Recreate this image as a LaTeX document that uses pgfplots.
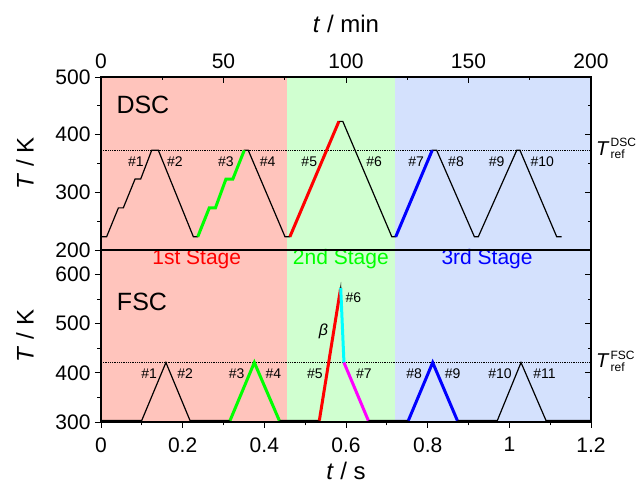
\documentclass[border=0pt]{standalone}
\usepackage{fontspec}
\setmainfont{Liberation Sans}
\usepackage{pgfplots}
\pgfplotsset{compat=1.18}

\definecolor{stA}{RGB}{255,196,188}
\definecolor{stB}{RGB}{208,255,208}
\definecolor{stC}{RGB}{212,225,253}
\definecolor{grl}{RGB}{0,255,0}
\definecolor{cyl}{RGB}{0,255,255}
\definecolor{mgl}{RGB}{255,0,255}

\pgfplotsset{
  panel/.style={
    scale only axis, width=490pt,
    axis on top, clip=false,
    tick align=center,
    major tick length=6pt, minor tick length=3.5pt,
    major x tick style={yshift=-3pt}, minor x tick style={yshift=-1.75pt},
    major y tick style={xshift=-3pt}, minor y tick style={xshift=-1.75pt},
    tick style={black, line width=0.8pt},
    axis line style={line width=1.1pt},
    tick label style={font=\fontsize{21}{21}\selectfont},
    yticklabel style={xshift=-4pt},
    label style={font=\fontsize{24}{24}\selectfont},
    /pgf/number format/assume math mode=true,
    ytick pos=both, yticklabel pos=left,
    minor x tick num=1, minor y tick num=1,
    ylabel={\textit{T} / K},
    ylabel style={at={(axis description cs:-0.155,0.5)}, anchor=center},
  },
  thinln/.style={black, line width=1.2pt},
  thickln/.style={line width=3pt},
  refln/.style={black, densely dotted, line width=0.8pt},
}
\tikzset{lab/.style={font=\fontsize{14}{14}\selectfont},
  big/.style={font=\fontsize{25}{25}\selectfont}}

\begin{document}
\begin{tikzpicture}
% ---- DSC panel (t in min)
\begin{axis}[panel, name=top, height=173pt,
    xmin=0, xmax=200, ymin=200, ymax=500,
    xtick={0,50,100,150,200}, ytick={200,300,400,500},
    xtick pos=both, xticklabel pos=right,
    xticklabel style={yshift=2pt},
    xlabel={\textit{t} / min},
    xlabel style={at={(axis description cs:0.5,1.306)}, anchor=center}]
\coordinate (TL) at (rel axis cs:0,1);
\addplot[fill=stA, draw=none] coordinates {(0,200)(75.9,200)(75.9,500)(0,500)};
\addplot[fill=stB, draw=none] coordinates {(75.9,200)(120,200)(120,500)(75.9,500)};
\addplot[fill=stC, draw=none] coordinates {(120,200)(200,200)(200,500)(120,500)};
\addplot[refln] coordinates {(0,373)(200,373)};
\addplot[thinln] coordinates {
 (0,223)(2.3,223)(7.1,273)(9.1,273)(13.9,323)(16.2,323)(20.7,373)(23.4,373)
 (37.7,223)(39.5,223)(44.2,273)(46.7,273)(51.0,323)(53.8,323)(58.5,373)(60.1,373)
 (75.1,223)(77.1,223)(97.1,423)(98.7,423)(118.7,223)(120.3,223)(135.2,373)(137.0,373)
 (152.4,223)(154.0,223)(169.7,373)(171.0,373)(186.0,223)(188.0,223)};
\addplot[thickln, grl] coordinates {(39.5,223)(44.2,273)(46.7,273)(51.0,323)(53.8,323)(58.5,373)};
\addplot[thickln, red] coordinates {(77.1,223)(97.1,423)};
\addplot[thickln, blue] coordinates {(120.3,223)(135.2,373)};
\node[big] at (axis cs:17.1,451) {DSC};
\node[lab] at (axis cs:14.2,353) {\#1};
\node[lab] at (axis cs:30.2,353) {\#2};
\node[lab] at (axis cs:51.0,353) {\#3};
\node[lab] at (axis cs:68.0,353) {\#4};
\node[lab] at (axis cs:85.0,353) {\#5};
\node[lab] at (axis cs:111.5,353) {\#6};
\node[lab] at (axis cs:128.6,353) {\#7};
\node[lab] at (axis cs:144.9,353) {\#8};
\node[lab] at (axis cs:161.5,353) {\#9};
\node[lab] at (axis cs:180.1,353) {\#10};
\node[anchor=west, inner sep=0pt, xshift=5pt] at (axis cs:200,373)
  {{\fontsize{20}{20}\selectfont\textit{T}}\hspace{1pt}\raisebox{2pt}{\fontsize{12}{11}\selectfont\begin{tabular}{@{}l@{}}DSC\\ref\end{tabular}}};
\end{axis}

% ---- FSC panel (t in s)
\begin{axis}[panel, at={(top.south west)}, anchor=north west, height=172pt,
    xmin=0, xmax=1.2, ymin=300, ymax=650,
    xtick={0,0.2,0.4,0.6,0.8,1,1.2}, ytick={300,400,500,600},
    xtick pos=left, xticklabel pos=left,
    xticklabel style={yshift=-9pt},
    xlabel={\textit{t} / s},
    xlabel style={at={(axis description cs:0.5,-0.282)}, anchor=center}]
\addplot[fill=stA, draw=none] coordinates {(0,300)(0.455,300)(0.455,650)(0,650)};
\addplot[fill=stB, draw=none] coordinates {(0.455,300)(0.72,300)(0.72,650)(0.455,650)};
\addplot[fill=stC, draw=none] coordinates {(0.72,300)(1.2,300)(1.2,650)(0.72,650)};
\addplot[refln] coordinates {(0,421)(1.2,421)};
\addplot[thinln] coordinates {
 (0,303)(0.0997,303)(0.159,421)(0.218,303)(0.316,303)(0.3755,421)(0.4367,303)
 (0.5347,303)(0.587,573)(0.595,421)(0.6547,303)(0.7527,303)(0.8123,421)(0.8727,303)
 (0.9706,303)(1.0286,421)(1.0898,303)(1.2,303)};
\addplot[thickln, grl] coordinates {(0.316,303)(0.3755,421)(0.4367,303)};
\addplot[thickln, red] coordinates {(0.5347,303)(0.587,573)};
\addplot[thickln, cyl] coordinates {(0.587,573)(0.595,421)};
\addplot[thickln, mgl] coordinates {(0.595,421)(0.6547,303)};
\addplot[thickln, blue] coordinates {(0.7527,303)(0.8123,421)(0.8727,303)};
\node[big] at (axis cs:0.1004,544) {FSC};
\node[font=\fontsize{21}{21}\selectfont, red, anchor=base] at (axis cs:0.2344,621) {1st Stage};
\node[font=\fontsize{21}{21}\selectfont, grl, anchor=base] at (axis cs:0.5874,621) {2nd Stage};
\node[font=\fontsize{21}{21}\selectfont, blue, anchor=base] at (axis cs:0.9454,621) {3rd Stage};
\node[lab] at (axis cs:0.118,398) {\#1};
\node[lab] at (axis cs:0.206,398) {\#2};
\node[lab] at (axis cs:0.332,398) {\#3};
\node[lab] at (axis cs:0.422,398) {\#4};
\node[lab] at (axis cs:0.524,398) {\#5};
\node[lab] at (axis cs:0.618,552) {\#6};
\node[lab] at (axis cs:0.644,398) {\#7};
\node[lab] at (axis cs:0.767,398) {\#8};
\node[lab] at (axis cs:0.861,398) {\#9};
\node[lab] at (axis cs:0.977,398) {\#10};
\node[lab] at (axis cs:1.086,398) {\#11};
\node[font=\fontsize{16}{16}\selectfont] at (axis cs:0.5445,484) {\textit{β}};
\node[anchor=west, inner sep=0pt, xshift=5pt] at (axis cs:1.2,421)
  {{\fontsize{20}{20}\selectfont\textit{T}}\hspace{1pt}\raisebox{2pt}{\fontsize{12}{11}\selectfont\begin{tabular}{@{}l@{}}FSC\\ref\end{tabular}}};
\end{axis}
\pgfresetboundingbox
\path[use as bounding box] ([shift={(-101pt,77pt)}]TL) rectangle ([shift={(543pt,-412pt)}]TL);
\end{tikzpicture}
\end{document}
